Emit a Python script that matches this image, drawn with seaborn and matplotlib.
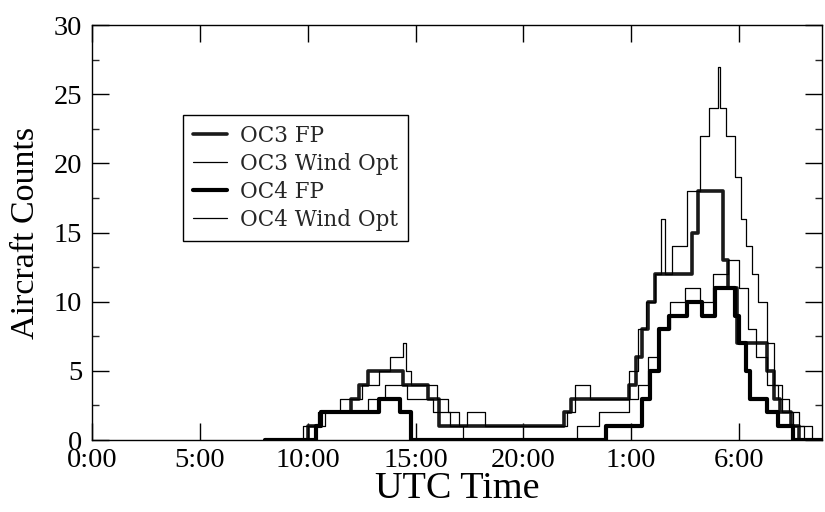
import matplotlib
matplotlib.use("Agg")
import matplotlib.pyplot as plt
import seaborn as sns
import pandas as pd
from matplotlib.ticker import MultipleLocator
from matplotlib.lines import Line2D

# ---- data (hours since 0:00 UTC, aircraft counts; step-post) ----
oc3_fp_t = [8.0, 10.0, 10.6, 12.0, 12.4, 12.8, 14.4, 15.6, 16.1, 21.9, 22.2, 24.9, 25.2, 25.5,
            25.8, 26.1, 27.8, 28.1, 29.25, 29.5, 29.9, 31.3, 31.6, 31.9, 32.4, 32.8, 33.85]
oc3_fp_n = [0, 1, 2, 3, 4, 5, 4, 3, 1, 2, 3, 4, 6, 8,
            10, 12, 15, 18, 13, 11, 7, 5, 3, 2, 1, 0, 0]

oc3_wo_t = [8.0, 9.8, 10.5, 11.5, 12.5, 13.3, 13.8, 14.4, 14.55, 14.8, 16.0, 16.5, 17.0, 17.4,
            18.2, 22.0, 22.4, 23.1, 24.9, 25.3, 25.7, 26.1, 26.4, 26.55, 26.9, 27.6, 28.2, 28.6,
            29.0, 29.1, 29.4, 29.8, 30.1, 30.3, 30.6, 30.9, 31.3, 31.6, 32.0, 32.5, 33.0, 33.85]
oc3_wo_n = [0, 1, 2, 3, 4, 5, 6, 7, 5, 4, 3, 2, 1, 2,
            1, 2, 4, 3, 5, 8, 10, 12, 16, 12, 14, 18, 22, 24,
            27, 24, 22, 19, 16, 14, 12, 10, 7, 4, 2, 1, 0, 0]

oc4_fp_t = [8.0, 10.4, 10.6, 13.3, 14.3, 14.8, 23.85, 25.5, 25.85, 26.3, 26.75, 27.6, 28.3,
            28.9, 29.8, 30.0, 30.3, 30.5, 31.3, 31.8, 32.5, 33.85]
oc4_fp_n = [0, 1, 2, 3, 2, 0, 1, 3, 5, 8, 9, 10, 9,
            11, 9, 7, 5, 3, 2, 1, 0, 0]

oc4_wo_t = [8.0, 10.0, 10.8, 12.8, 13.6, 14.6, 15.8, 16.6, 17.2, 22.5, 23.5, 24.9, 25.3, 25.8,
            26.3, 26.8, 27.5, 28.2, 28.8, 29.5, 30.0, 30.4, 30.8, 31.3, 31.8, 32.3, 32.8, 33.4, 33.85]
oc4_wo_n = [0, 1, 2, 3, 4, 3, 2, 1, 0, 1, 2, 3, 4, 6,
            8, 10, 11, 10, 12, 13, 11, 8, 6, 4, 3, 2, 1, 0, 0]

series_names = ["OC3 FP", "OC3 Wind Opt", "OC4 FP", "OC4 Wind Opt"]
x_ticks = [0, 5, 10, 15, 20, 25, 30]
x_ticklabels = ["0:00", "5:00", "10:00", "15:00", "20:00", "1:00", "6:00"]

frames = []
for name, t, n in zip(series_names,
                      [oc3_fp_t, oc3_wo_t, oc4_fp_t, oc4_wo_t],
                      [oc3_fp_n, oc3_wo_n, oc4_fp_n, oc4_wo_n]):
    frames.append(pd.DataFrame({"hour": t, "count": n, "series": name}))
df = pd.concat(frames, ignore_index=True)

styles = {
    "OC3 FP": dict(color="#1a1a1a", lw=2.6),
    "OC3 Wind Opt": dict(color="black", lw=0.9),
    "OC4 FP": dict(color="black", lw=3.0),
    "OC4 Wind Opt": dict(color="black", lw=0.9),
}

sns.set_theme(style="ticks")
plt.rcParams["font.family"] = ["Liberation Serif", "DejaVu Serif"]

fig = plt.figure(figsize=(8.25, 5.12), dpi=100)
ax = fig.add_axes([0.1115, 0.1406, 0.885, 0.8104])

for name in series_names:
    sub = df[df["series"] == name]
    sns.lineplot(data=sub, x="hour", y="count", ax=ax, estimator=None, sort=False,
                 drawstyle="steps-post", color=styles[name]["color"],
                 linewidth=styles[name]["lw"], legend=False)

ax.set_xlim(0, 33.85)
ax.set_ylim(0, 30)
ax.set_xticks(x_ticks)
ax.set_xticklabels(x_ticklabels)
ax.yaxis.set_major_locator(MultipleLocator(5))
ax.yaxis.set_minor_locator(MultipleLocator(2.5))

for s in ax.spines.values():
    s.set_visible(True)
    s.set_color("black")
    s.set_linewidth(1.0)

ax.tick_params(axis="both", which="major", direction="in", length=12, width=1.0,
               labelsize=20.5, colors="black")
ax.tick_params(axis="y", which="major", right=True, pad=7)
ax.tick_params(axis="x", which="major", top=True, pad=6)
ax.tick_params(axis="y", which="minor", direction="in", length=5, width=1.0, right=True)

ax.set_xlabel("UTC Time", fontsize=27.5, labelpad=-1, color="black")
ax.set_ylabel("Aircraft Counts", fontsize=24.5, labelpad=9, color="black")
ax.set_facecolor("white")
fig.patch.set_facecolor("white")

handles = [Line2D([], [], color=styles[n]["color"], linewidth=styles[n]["lw"]) for n in series_names]
leg = ax.legend(handles, series_names, loc="upper left", bbox_to_anchor=(0.125, 0.783),
                prop={"family": "DejaVu Serif", "size": 15.5}, frameon=True, fancybox=False,
                edgecolor="black", handlelength=1.6, handletextpad=0.6, labelspacing=0.28,
                borderpad=0.45, borderaxespad=0)
leg.get_frame().set_linewidth(1.0)
leg.get_frame().set_alpha(1)

fig.savefig("out.png", dpi=100, facecolor="white")
